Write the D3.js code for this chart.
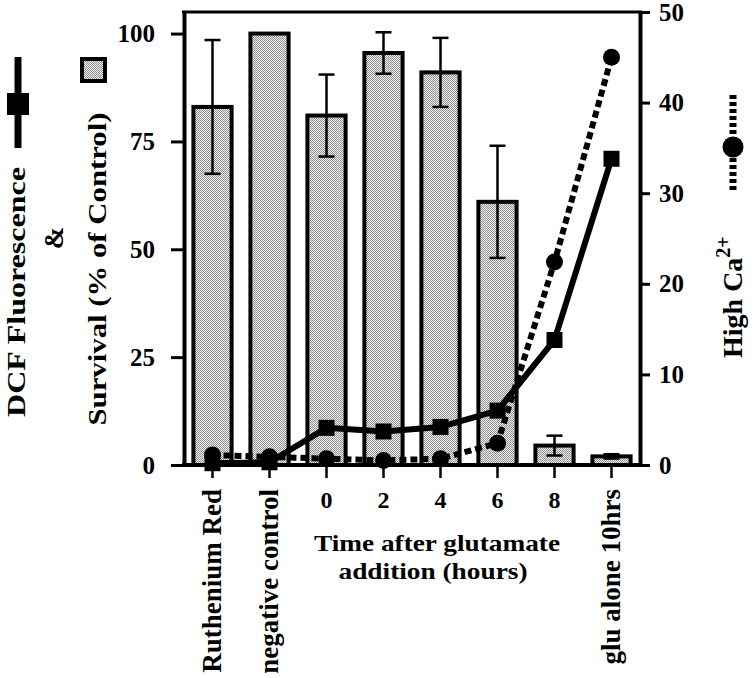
<!DOCTYPE html>
<html><head><meta charset="utf-8">
<script src="https://cdn.jsdelivr.net/npm/d3@7"></script>
<style>
body{margin:0;background:#fff}
svg{display:block}
text{font-family:"Liberation Serif","Times New Roman",serif;font-weight:bold;fill:#000}
</style>
</head><body>
<svg id="c" width="755" height="678"></svg>
<script>
// ---- data ----
const categories = ["Ruthenium Red","negative control","0","2","4","6","8","glu alone 10hrs"];
const survival    = [83, 100, 81, 95.5, 91, 61, 4.5, 2];
const survivalErr = [15.5, 0, 9.5, 4.8, 8, 13, 2.3, 0.5];
const dcf    = [0.2, 0.3, 4.1, 3.7, 4.2, 6.0, 13.8, 33.8];
const highCa = [1.1, 0.9, 0.7, 0.5, 0.7, 2.4, 22.4, 45];
const leftTicks  = [0, 25, 50, 75, 100];
const rightTicks = [0, 10, 20, 30, 40, 50];
const rotatedCats = ["Ruthenium Red","negative control","glu alone 10hrs"];

// ---- layout ----
const L = 184, R = 640, T = 12, B = 465;
const svg = d3.select("#c");

const x = d3.scaleBand().domain(categories).range([L, R]).paddingInner(0.33).paddingOuter(0.165);
const cx = c => x(c) + x.bandwidth() / 2;
const yL = d3.scaleLinear().domain([0, 105]).range([B, T]);
const yR = d3.scaleLinear().domain([0, 50]).range([B, T]);

// pattern
const defs = svg.append("defs");
const pat = defs.append("pattern").attr("id","stip").attr("patternUnits","userSpaceOnUse")
  .attr("width",2).attr("height",2);
pat.append("rect").attr("width",2).attr("height",2).attr("fill","#f2f2f2");
pat.append("rect").attr("x",0).attr("y",0).attr("width",1).attr("height",1).attr("fill","#8e8e8e");
pat.append("rect").attr("x",1).attr("y",1).attr("width",1).attr("height",1).attr("fill","#8e8e8e");

const rows = categories.map((c,i)=>({c, s:survival[i], e:survivalErr[i], d:dcf[i], h:highCa[i]}));

// bars
svg.append("g").selectAll("rect").data(rows).join("rect")
  .attr("x", d => x(d.c)).attr("width", x.bandwidth())
  .attr("y", d => yL(d.s)).attr("height", d => B - yL(d.s))
  .attr("fill","url(#stip)").attr("stroke","#000").attr("stroke-width",4);

// error bars
const eb = svg.append("g").attr("stroke","#000").attr("stroke-width",2.5);
rows.filter(d=>d.e>0).forEach(d=>{
  const xc = cx(d.c);
  eb.append("line").attr("x1",xc).attr("x2",xc).attr("y1",yL(d.s+d.e)).attr("y2",yL(d.s-d.e));
  eb.append("line").attr("x1",xc-8).attr("x2",xc+8).attr("y1",yL(d.s+d.e)).attr("y2",yL(d.s+d.e));
  eb.append("line").attr("x1",xc-8).attr("x2",xc+8).attr("y1",yL(d.s-d.e)).attr("y2",yL(d.s-d.e));
});

// frame top
svg.append("line").attr("x1",L-2).attr("x2",R+2).attr("y1",T).attr("y2",T)
  .attr("stroke","#000").attr("stroke-width",3);

// axes
function styleAxis(g, fs){
  g.select(".domain").attr("stroke-width",4);
  g.selectAll(".tick line").attr("stroke-width",3);
  g.selectAll(".tick text").style("font-size",fs+"px").style("font-family",'"Liberation Serif",serif').style("font-weight","bold");
}
const gl = svg.append("g").attr("transform",`translate(${L},0)`)
  .call(d3.axisLeft(yL).tickValues(leftTicks).tickSize(13).tickSizeOuter(0).tickPadding(16));
styleAxis(gl,25);
const gr = svg.append("g").attr("transform",`translate(${R},0)`)
  .call(d3.axisRight(yR).tickValues(rightTicks).tickSize(10).tickSizeOuter(0).tickPadding(9));
styleAxis(gr,25);
const gb = svg.append("g").attr("transform",`translate(0,${B})`)
  .call(d3.axisBottom(x).tickSize(13).tickSizeOuter(0).tickFormat(""));
styleAxis(gb,24);
gb.select(".domain").attr("d",`M${L-2},0H${R+2}`);
gb.selectAll(".tick line").attr("stroke-width",2.5);

// x labels
svg.append("g").selectAll("text").data(categories.filter(c=>!rotatedCats.includes(c))).join("text")
  .attr("x", c=>cx(c)).attr("y",508).attr("text-anchor","middle").style("font-size","24px").text(c=>c);
svg.append("g").selectAll("text").data(rotatedCats).join("text")
  .attr("transform", c=>`translate(${cx(c)+8},489) rotate(-90)`)
  .attr("text-anchor","end").style("font-size","27px").text(c=>c);
svg.append("text").attr("x",437).attr("y",551).attr("text-anchor","middle").style("font-size","24px")
  .attr("textLength",246).attr("lengthAdjust","spacingAndGlyphs").text("Time after glutamate");
svg.append("text").attr("x",433).attr("y",579).attr("text-anchor","middle").style("font-size","24px")
  .attr("textLength",189).attr("lengthAdjust","spacingAndGlyphs").text("addition (hours)");

// lines
const lineD = d3.line().x(d=>cx(d.c)).y(d=>yR(d.d));
const lineH = d3.line().x(d=>cx(d.c)).y(d=>yR(d.h));
svg.append("path").attr("d",lineH(rows)).attr("fill","none").attr("stroke","#000")
  .attr("stroke-width",6).attr("stroke-dasharray","7,4").attr("stroke-linejoin","round");
svg.append("path").attr("d",lineD(rows)).attr("fill","none").attr("stroke","#000").attr("stroke-width",6)
  .attr("stroke-linejoin","round");
svg.append("g").selectAll("rect").data(rows).join("rect")
  .attr("x",d=>cx(d.c)-8).attr("y",d=>yR(d.d)-8).attr("width",16).attr("height",16).attr("fill","#000");
svg.append("g").selectAll("circle").data(rows).join("circle")
  .attr("cx",d=>cx(d.c)).attr("cy",d=>yR(d.h)).attr("r",8.5).attr("fill","#000");

// left titles + legend symbols
svg.append("text").attr("transform","translate(25,292) rotate(-90)").attr("text-anchor","middle")
  .style("font-size","26px").attr("textLength",250).attr("lengthAdjust","spacingAndGlyphs").text("DCF Fluorescence");
svg.append("text").attr("transform","translate(63,238) rotate(-90)").attr("text-anchor","middle")
  .style("font-size","27px").text("&");
svg.append("text").attr("transform","translate(106,269) rotate(-90)").attr("text-anchor","middle")
  .style("font-size","26px").attr("textLength",313).attr("lengthAdjust","spacingAndGlyphs").text("Survival (% of Control)");
svg.append("line").attr("x1",18).attr("x2",18).attr("y1",57).attr("y2",148).attr("stroke","#000").attr("stroke-width",7);
svg.append("rect").attr("x",7).attr("y",93).attr("width",22).attr("height",22).attr("fill","#000");
svg.append("rect").attr("x",82).attr("y",59).attr("width",23).attr("height",22)
  .attr("fill","url(#stip)").attr("stroke","#000").attr("stroke-width",4);

// right title + legend
const rt = svg.append("text").attr("transform","translate(742,358) rotate(-90)").attr("text-anchor","start")
  .style("font-size","28px");
rt.append("tspan").text("High Ca");
rt.append("tspan").attr("dy",-12).style("font-size","20px").text("2+");
svg.append("line").attr("x1",733).attr("x2",733).attr("y1",95).attr("y2",193).attr("stroke","#000")
  .attr("stroke-width",7).attr("stroke-dasharray","4,3");
svg.append("circle").attr("cx",733).attr("cy",147).attr("r",10.5).attr("fill","#000");
</script>
</body></html>
